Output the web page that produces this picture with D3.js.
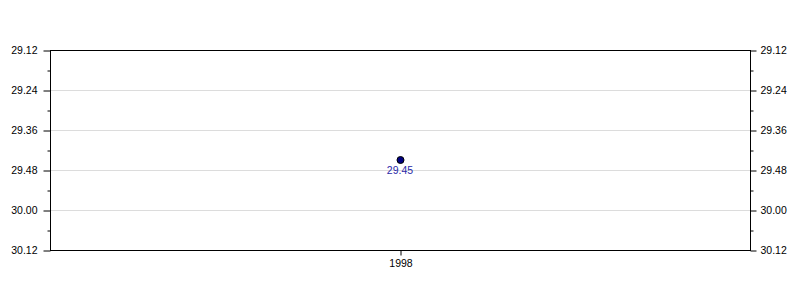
<!DOCTYPE html>
<html><head><meta charset="utf-8">
<script src="https://cdn.jsdelivr.net/npm/d3@7"></script>
<style>body{margin:0;background:#fff}</style>
</head><body>
<svg id="c" width="800" height="300"></svg>
<script>
const years = ["1998"];
const times = ["29.45"];
const yTickLabels = ["29.12","29.24","29.36","29.48","30.00","30.12"];

function toSec(s){const [m,ss]=s.split(".");return +m*60+ +ss;}
function fmt(v){const m=Math.floor(v/60), s=Math.round(v-m*60);return m+"."+(s<10?"0":"")+s;}

const svg=d3.select("#c");
const L=50,R=750,T=50,B=250;
const tickVals=yTickLabels.map(toSec);
const y=d3.scaleLinear().domain([tickVals[0],tickVals[tickVals.length-1]]).range([T,B]);
const x=d3.scalePoint().domain(years).range([L,R]).padding(0.5);
const font="Liberation Sans, Arial, sans-serif";

// grid
svg.append("g").selectAll("line").data(tickVals.slice(1,-1)).join("line")
  .attr("x1",L).attr("x2",R).attr("y1",d=>y(d)+0.5).attr("y2",d=>y(d)+0.5)
  .attr("stroke","#dcdcdc").attr("stroke-width",1);

const minor=[];
for(let i=0;i<tickVals.length-1;i++) minor.push((tickVals[i]+tickVals[i+1])/2);

function yAxis(g,side){
  const left=side==="left";
  const ax=(left?d3.axisLeft(y):d3.axisRight(y)).tickValues(tickVals).tickFormat(fmt)
    .tickSize(left?7:6).tickPadding(left?6:4);
  g.call(ax);
  g.select(".domain").remove();
  g.selectAll("text").attr("font-family",font).attr("font-size",10.5).attr("fill","#000");
  g.selectAll(".tick line").attr("stroke","#000");
  const axm=(left?d3.axisLeft(y):d3.axisRight(y)).tickValues(minor).tickFormat("").tickSize(3);
  g.append("g").call(axm).call(a=>a.select(".domain").remove()).selectAll("line").attr("stroke","#000");
}
svg.append("g").attr("transform",`translate(${L+0.5},0.5)`).call(g=>yAxis(g,"left"));
svg.append("g").attr("transform",`translate(${R+0.5},0.5)`).call(g=>yAxis(g,"right"));

const xa=svg.append("g").attr("transform",`translate(0.5,${B+0.5})`)
  .call(d3.axisBottom(x).tickSize(5).tickPadding(4));
xa.select(".domain").remove();
xa.selectAll("text").attr("font-family",font).attr("font-size",10.5).attr("fill","#000");
xa.selectAll(".tick line").attr("stroke","#000");

// frame
svg.append("rect").attr("x",L+0.5).attr("y",T+0.5).attr("width",R-L).attr("height",B-T)
  .attr("fill","none").attr("stroke","#000").attr("stroke-width",1);

// points
const data=years.map((yr,i)=>({yr,t:times[i],v:toSec(times[i])}));
svg.append("g").selectAll("circle").data(data).join("circle")
  .attr("cx",d=>x(d.yr)+0.5).attr("cy",d=>y(d.v)).attr("r",3.5)
  .attr("fill","#000080").attr("stroke","#000").attr("stroke-width",1);
svg.append("g").selectAll("text").data(data).join("text")
  .attr("x",d=>x(d.yr)).attr("y",d=>y(d.v)+10).attr("dy","0.35em")
  .attr("text-anchor","middle").attr("font-family",font).attr("font-size",10.5)
  .attr("fill","#2a2aa8").text(d=>d.t);
</script>
</body></html>
